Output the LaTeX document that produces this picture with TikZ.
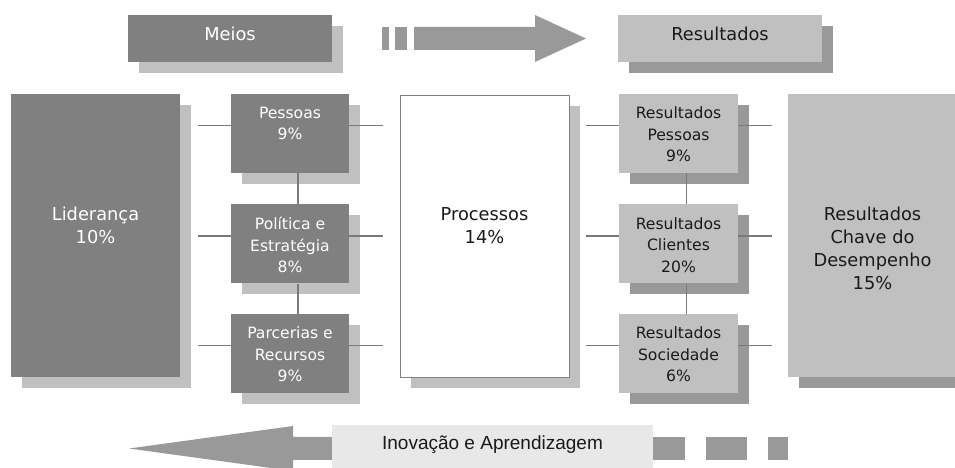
\documentclass[tikz,border=0pt]{standalone}
\usepackage{fontspec}
\setmainfont{DejaVu Sans}
\newfontfamily\inovfont{Liberation Sans}
\usetikzlibrary{positioning,shadows}
\definecolor{darkbox}{HTML}{808080}
\definecolor{lightbox}{HTML}{C0C0C0}
\definecolor{midbox}{HTML}{999999}
\definecolor{palebox}{HTML}{E8E8E8}
\definecolor{linkgray}{HTML}{7A7A7A}
\definecolor{ink}{HTML}{1A1A1A}

\begin{document}
\begin{tikzpicture}[
    x=1pt, y=1pt,
    shade light/.style={general shadow={shadow xshift=11pt, shadow yshift=-11pt, fill=lightbox}},
    shade mid/.style={general shadow={shadow xshift=11pt, shadow yshift=-11pt, fill=midbox}},
    darkfill/.style={fill=darkbox, shade light},
    lightfill/.style={fill=lightbox, shade mid},
    topbox/.style={minimum width=204pt, minimum height=47pt, inner sep=0pt,
      text height=13pt, text depth=9.5pt, font=\fontsize{17.8}{20}\selectfont},
    bigbox/.style={minimum width=169pt, minimum height=283pt, inner sep=0pt},
    smallbox/.style={minimum width=118pt, minimum height=79pt, inner sep=0pt},
    bigtext/.style={align=center, inner sep=0pt, font=\fontsize{17.8}{23}\selectfont},
    smalltext/.style={align=center, inner sep=0pt, font=\fontsize{15.6}{21.5}\selectfont},
    link/.style={draw=linkgray, line width=1.7pt},
    flow/.style={fill=midbox}
  ]
  \useasboundingbox (0,0) rectangle (955,468);
  \clip (0,0) rectangle (955,468);

  \node[topbox, darkfill, text=white] (meios) at (230,429.5) {Meios};
  \node[topbox, lightfill, text=ink] (restop) at (720,429.5) {Resultados};
  \fill[flow] (382,418) rectangle (389,441);
  \fill[flow] (395,418) rectangle (407,441);
  \fill[flow] (414,418) -- (535,418) -- (535,406) -- (586,429.5)
    -- (535,453) -- (535,441) -- (414,441) -- cycle;

  \node[bigbox, darkfill] (lider) at (95.5,232.5) {};
  \node[smallbox, darkfill] (p1) at (290,334.5) {};
  \node[smallbox, darkfill] (p2) at (290,224) {};
  \node[smallbox, darkfill] (p3) at (290,114.5) {};
  \node[bigbox, fill=white, draw=darkbox, line width=0.8pt, shade light,
    minimum height=282pt] (proc) at (484.5,232) {};
  \node[smallbox, lightfill, minimum width=119pt] (r1) at (678.5,334.5) {};
  \node[smallbox, lightfill, minimum width=119pt] (r2) at (678.5,224) {};
  \node[smallbox, lightfill, minimum width=119pt] (r3) at (678.5,114.5) {};
  \node[bigbox, lightfill] (chave) at (872.5,232.5) {};

  \node[bigtext, text=white, below=113pt of lider.north] (lidert) {Liderança\\10\%};
  \node[bigtext, text=ink, below=113pt of proc.north] (proct) {Processos\\14\%};
  \node[bigtext, text=ink, below=113pt of chave.north] (chavet)
    {Resultados\\Chave do\\Desempenho\\15\%};
  \node[smalltext, text=white, below=13pt of p1.north] (p1t) {Pessoas\\9\%};
  \node[smalltext, text=white, below=13pt of p2.north] (p2t) {Política e\\Estratégia\\8\%};
  \node[smalltext, text=white, below=13pt of p3.north] (p3t) {Parcerias e\\Recursos\\9\%};
  \node[smalltext, text=ink, below=13pt of r1.north] (r1t) {Resultados\\Pessoas\\9\%};
  \node[smalltext, text=ink, below=13pt of r2.north] (r2t) {Resultados\\Clientes\\20\%};
  \node[smalltext, text=ink, below=13pt of r3.north] (r3t) {Resultados\\Sociedade\\6\%};

  \foreach \b in {p1,p2,p3,r1,r2,r3} {
    \draw[link] ([yshift=8pt]\b.west) -- ++(-33,0);
    \draw[link] ([yshift=8pt]\b.east) -- ++(34,0);
  }
  \draw[link] ([xshift=8pt]p1.south) -- ([xshift=8pt]p2.north);
  \draw[link] ([xshift=8pt]p2.south) -- ([xshift=8pt]p3.north);
  \draw[link] ([xshift=8pt]r1.south) -- ([xshift=8pt]r2.north);
  \draw[link] ([xshift=8pt]r2.south) -- ([xshift=8pt]r3.north);

  \fill[flow] (129,19.5) -- (293,42) -- (293,31) -- (332,31)
    -- (332,8) -- (293,8) -- (293,-3) -- cycle;
  \node[fill=palebox, minimum width=321pt, minimum height=45pt, inner sep=0pt,
    text height=13.6pt, text depth=9pt, text=ink,
    font=\inovfont\fontsize{19}{22}\selectfont] (inov) at (492.5,20.5)
    {Inovação e Aprendizagem};
  \fill[flow] (653,8) rectangle (685,31);
  \fill[flow] (706,8) rectangle (747,31);
  \fill[flow] (768,8) rectangle (788,31);
\end{tikzpicture}
\end{document}
